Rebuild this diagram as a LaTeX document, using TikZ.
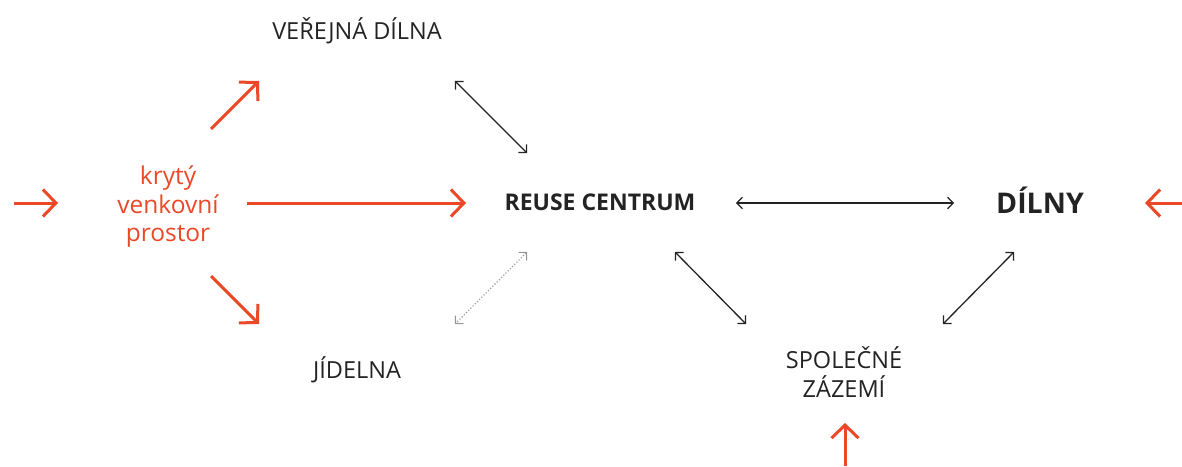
\documentclass[tikz,border=0pt]{standalone}
\usepackage{fontspec}
\setmainfont{Open Sans}
\usetikzlibrary{arrows.meta}
\definecolor{accent}{RGB}{234,72,38}
\definecolor{ink}{RGB}{35,35,35}
\definecolor{faint}{RGB}{150,150,150}
\tikzset{
  lbl/.style={inner sep=0pt, text=ink, font=\fontsize{23.5}{29}\selectfont, align=center},
  redlbl/.style={inner sep=0pt, text=accent, font=\fontsize{24.5}{28.5}\selectfont, align=center},
  redarrow/.style={draw=accent, line width=3pt, -{Straight Barb[length=13pt,width=27pt,line width=3pt]}},
  duo/.style={draw=ink, line width=1.3pt, {Straight Barb[length=5.5pt,width=11.5pt,line width=1.3pt]}-{Straight Barb[length=5.5pt,width=11.5pt,line width=1.3pt]}},
  faintduo/.style={draw=faint, line width=1.1pt, dotted, {Straight Barb[length=5.5pt,width=11.5pt,line width=1.1pt]}-{Straight Barb[length=5.5pt,width=11.5pt,line width=1.1pt]}}
}
\begin{document}
\begin{tikzpicture}[x=1pt,y=-1pt]
\useasboundingbox (0,0) rectangle (1182,466);
% nodes
\node[lbl, anchor=base] (vd) at (357,39) {VEŘEJNÁ DÍLNA};
\node[redlbl] (kvp) at (168,207) {krytý\\venkovní\\prostor};
\node[lbl, anchor=base, font=\fontsize{23}{30}\selectfont\bfseries] (rc) at (600,210) {REUSE CENTRUM};
\node[lbl, anchor=base, font=\fontsize{28.5}{34}\selectfont\bfseries] (dl) at (1040,213) {DÍLNY};
\node[lbl, anchor=base] (jd) at (357,378) {JÍDELNA};
\node[lbl] (sz) at (844,372.5) {SPOLEČNÉ\\ZÁZEMÍ};
% arrow end points
\coordinate (inL1) at (14,203);   \coordinate (inL2) at (58,203);
\coordinate (kUp1) at (211,129);  \coordinate (kUp2) at (259,81);
\coordinate (kMid1) at (247,203); \coordinate (kMid2) at (466,203);
\coordinate (kDn1) at (211,276);  \coordinate (kDn2) at (259,324);
\coordinate (inR1) at (1182,203); \coordinate (inR2) at (1145,203);
\coordinate (inB1) at (845,466);  \coordinate (inB2) at (845,423);
\coordinate (vdA) at (455,81);    \coordinate (rcA) at (527,153);
\coordinate (rcB) at (736,203);   \coordinate (dlB) at (954,203);
\coordinate (rcC) at (675,252);   \coordinate (szC) at (746,324);
\coordinate (dlD) at (1014,252);  \coordinate (szD) at (943,324);
\coordinate (rcE) at (527,252);   \coordinate (jdE) at (455,324);
% red arrows
\draw[redarrow] (inL1) -- (inL2);
\draw[redarrow] (kUp1) -- (kUp2);
\draw[redarrow] (kMid1) -- (kMid2);
\draw[redarrow] (kDn1) -- (kDn2);
\draw[redarrow] (inR1) -- (inR2);
\draw[redarrow] (inB1) -- (inB2);
% black double arrows
\draw[duo] (vdA) -- (rcA);
\draw[duo] (rcB) -- (dlB);
\draw[duo] (rcC) -- (szC);
\draw[duo] (dlD) -- (szD);
\draw[faintduo] (rcE) -- (jdE);
\end{tikzpicture}
\end{document}
